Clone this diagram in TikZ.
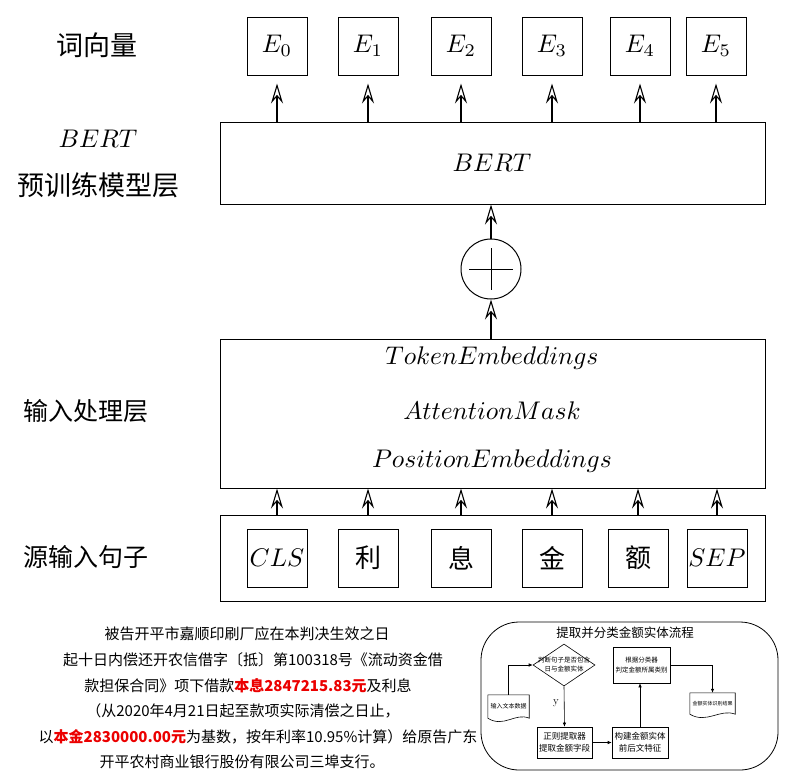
\documentclass[tikz,border=0pt]{standalone}
\usepackage{fontspec}
\newfontfamily\cjk{Noto Sans CJK SC}
\usetikzlibrary{arrows.meta,shapes.geometric,calc}
\definecolor{tred}{RGB}{235,0,0}
\newcommand{\mybigmath}[1]{\scalebox{2.55}{\fontsize{10}{12}\selectfont$#1$}}
\begin{document}
\begin{tikzpicture}[x=1pt,y=-1pt,
  ebox/.style={draw, line width=1pt, minimum width=60pt, minimum height=58pt, inner sep=0pt},
  bigbox/.style={draw, line width=1pt, minimum width=545pt, inner sep=0pt},
  arr/.style={line width=1.1pt, -{Stealth[open, fill=white, length=20pt, width=12pt, inset=7pt, line width=1.1pt]}},
  lab/.style={font=\cjk\fontsize{27}{30}\selectfont},
  para/.style={font=\cjk\fontsize{15}{16}\selectfont, inner sep=0pt},
  fcbox/.style={draw, line width=0.6pt, inner sep=0pt, align=center},
  fcarr/.style={line width=0.6pt, -{Latex[length=4pt,width=3.5pt]}}
]
\useasboundingbox (0,0) rectangle (791,780);

% ---------- left labels ----------
\node[lab] (l1) at (97,45) {词向量};
\node (l2) at (98,139) {\mybigmath{BERT}};
\node[lab] (l3) at (98,185) {预训练模型层};
\node[lab, font=\cjk\fontsize{25}{28}\selectfont] (l4) at (86,411) {输入处理层};
\node[lab, font=\cjk\fontsize{25}{28}\selectfont] (l5) at (86,557) {源输入句子};

% ---------- word vectors ----------
\node[ebox] (e0) at (277,46) {\mybigmath{E_0}};
\node[ebox] (e1) at (368,46) {\mybigmath{E_1}};
\node[ebox] (e2) at (461,46) {\mybigmath{E_2}};
\node[ebox] (e3) at (552,46) {\mybigmath{E_3}};
\node[ebox] (e4) at (640,46) {\mybigmath{E_4}};
\node[ebox] (e5) at (716,46) {\mybigmath{E_5}};

% ---------- BERT ----------
\node[bigbox, minimum height=82pt] (bert) at (492.5,163) {};
\node (berttxt) at (492,163) {\mybigmath{BERT}};
\foreach \i in {0,...,5}{
  \draw[arr] (e\i.south |- bert.north) -- ($(e\i.south)+(0,8)$);
}

% ---------- plus ----------
\node[circle, draw, line width=1pt, minimum size=60pt, inner sep=0pt] (plus) at (491,269) {};
\draw[line width=1pt] ($(plus.center)+(-22,0)$) -- ($(plus.center)+(22,0)$);
\draw[line width=1pt] ($(plus.center)+(0,-21)$) -- ($(plus.center)+(0,21)$);
\draw[arr] (plus.north) -- (plus.north |- bert.south);

% ---------- input processing ----------
\node[bigbox, minimum height=149pt] (inp) at (492.5,413.5) {};
\node (t1) at (492,358) {\mybigmath{TokenEmbeddings}};
\node (t2) at (492,411) {\mybigmath{AttentionMask}};
\node (t3) at (492,461) {\mybigmath{PositionEmbeddings}};
\draw[arr] (plus.south |- inp.north) -- (plus.south);

% ---------- source sentence ----------
\node[bigbox, minimum height=86pt] (src) at (492.5,558) {};
\node[ebox] (s0) at (277,558) {\mybigmath{CLS}};
\node[ebox, font=\cjk\fontsize{26}{28}\selectfont] (s1) at (368,558) {利};
\node[ebox, font=\cjk\fontsize{26}{28}\selectfont] (s2) at (461,558) {息};
\node[ebox, font=\cjk\fontsize{26}{28}\selectfont] (s3) at (552,558) {金};
\node[ebox, font=\cjk\fontsize{26}{28}\selectfont] (s4) at (638,558) {额};
\node[ebox] (s5) at (717,558) {\mybigmath{SEP}};
\foreach \i in {0,...,5}{
  \draw[arr] (s\i.north |- src.north) -- (s\i.north |- inp.south);
}

% ---------- bottom-left paragraph ----------
\node[para] (p1) at (247,634) {被告开平市嘉顺印刷厂应在本判决生效之日};
\node[para] (p2) at (253,660) {起十日内偿还开农信借字〔抵〕第100318号《流动资金借};
\node[para] (p3) at (248,686) {款担保合同》项下借款{\color{tred}\bfseries 本息2847215.83元}及利息};
\node[para] (p4) at (243,711) {（从2020年4月21日起至款项实际清偿之日止，};
\node[para] (p5) at (258,737) {以{\color{tred}\bfseries 本金2830000.00元}为基数，按年利率10.95\%计算）给原告广东};
\node[para] (p6) at (242,762) {开平农村商业银行股份有限公司三埠支行。};

% ---------- flowchart ----------
\node[draw, line width=0.8pt, rounded corners=38pt, minimum width=297pt, minimum height=148pt] (fcframe) at (629.5,696) {};
\node[font=\cjk\fontsize{12.5}{14}\selectfont] (fctitle) at (625,633) {提取并分类金额实体流程};

\node[diamond, draw, line width=0.6pt, minimum width=62pt, minimum height=42pt, inner sep=0pt] (dia) at (564,665) {};
\node[font=\cjk\fontsize{6.5}{9}\selectfont, align=center, inner sep=0pt] (diatxt) at (dia.center) {判断句子是否包含\\日与金额实体};

\node[fcbox, minimum width=57pt, minimum height=36pt, font=\cjk\fontsize{6.5}{10}\selectfont] (clsbox) at (641.5,665) {根据分类器\\判定金额所属类别};
\node[fcbox, minimum width=55pt, minimum height=31pt, font=\cjk\fontsize{8.5}{12}\selectfont] (regbox) at (564.5,742.5) {正则提取器\\提取金额字段};
\node[fcbox, minimum width=56pt, minimum height=31pt, font=\cjk\fontsize{8.5}{12}\selectfont] (featbox) at (640,742.5) {构建金额实体\\前后文特征};

\node[minimum width=41pt, minimum height=23pt, inner sep=0pt, font=\cjk\fontsize{6}{8}\selectfont] (doc1) at (508.5,706.5) {输入文本数据};
\draw[line width=0.6pt] (doc1.south west) -- (doc1.north west) -- (doc1.north east) -- (doc1.south east)
  .. controls ($(doc1.south east)+(-14,-6)$) and ($(doc1.south west)+(16,10)$) .. (doc1.south west);
\node[minimum width=45pt, minimum height=21pt, inner sep=0pt, font=\cjk\fontsize{5}{7}\selectfont] (doc2) at (712.5,703.5) {金额实体识别结果};
\draw[line width=0.6pt] (doc2.south west) -- (doc2.north west) -- (doc2.north east) -- (doc2.south east)
  .. controls ($(doc2.south east)+(-15,-6)$) and ($(doc2.south west)+(17,10)$) .. (doc2.south west);

\draw[fcarr] (doc1.north) |- (dia.west);
\draw[fcarr] (dia.south) -- (regbox.north);
\node[font=\fontsize{11}{12}\selectfont] (ylab) at (556,703) {y};
\draw[fcarr] (regbox.east) -- (featbox.west);
\draw[fcarr] (featbox.north) -- (featbox.north |- clsbox.south);
\draw[fcarr] (clsbox.east) -| (doc2.north);
\end{tikzpicture}
\end{document}
